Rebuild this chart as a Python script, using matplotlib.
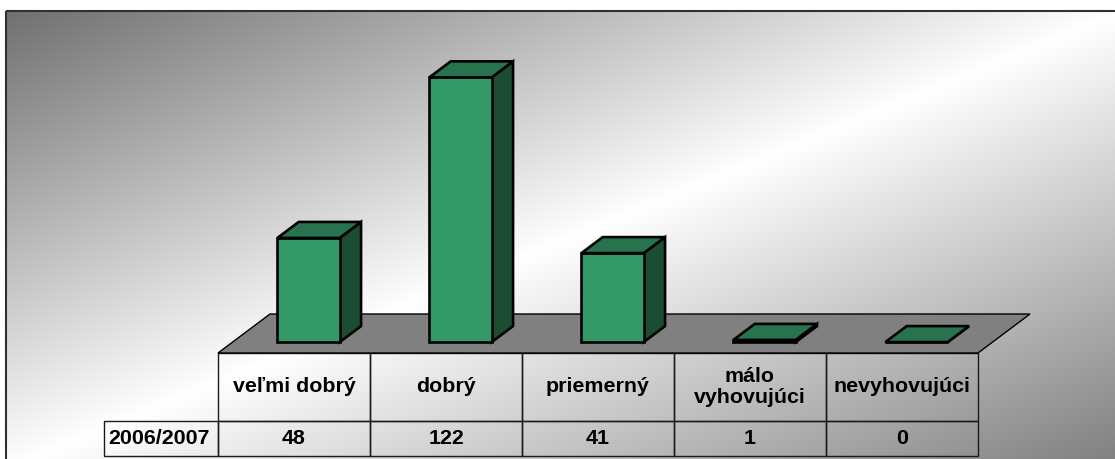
"""3D-style column chart with a data table: grades 2006/2007."""

import matplotlib

matplotlib.use("Agg")
import matplotlib.pyplot as plt
import numpy as np
from matplotlib.patches import Polygon, Rectangle
from matplotlib.table import Table

plt.rcParams["font.family"] = ["Liberation Sans", "DejaVu Sans"]

categories = ["veľmi dobrý", "dobrý", "priemerný", "málo\nvyhovujúci", "nevyhovujúci"]
values = [48, 122, 41, 1, 0]
series_name = "2006/2007"

FRONT = "#339966"
TOP = "#26734d"
SIDE = "#1c4d33"
FLOOR = "#808080"

W, H, DPI = 1115, 459, 100
fig = plt.figure(figsize=(W / DPI, H / DPI), dpi=DPI)

# background: diagonal gray -> white -> gray gradient inside a framed area
bg = fig.add_axes([0, 0, 1, 1])
bg.set_axis_off()
bg.set_xlim(0, W)
bg.set_ylim(H, 0)
fx0, fy0, fx1, fy1 = 6, 11, 1125, 470
yy, xx = np.mgrid[0:1:400j, 0:1:900j]
t = (xx + yy) / 2
g = np.interp(t, [0, 0.5, 1], [112, 255, 125]) / 255
bg.imshow(np.dstack([g, g, g]), extent=[fx0, fx1, fy1, fy0], aspect="auto",
          interpolation="bilinear", zorder=0)
bg.add_patch(Rectangle((fx0, fy0), fx1 - fx0, fy1 - fy0, fill=False,
                       edgecolor="#303030", lw=1.5, zorder=1))

# main axes: x in category units, y in value units
col_px = 152
first_center_px = 294
floor_front_px = H - 353
px_per_unit = 2.17

ax = fig.add_axes([0, 0, 1, 1])
ax.set_axis_off()
ax.patch.set_alpha(0)
xmin = -first_center_px / col_px
ymin = -floor_front_px / px_per_unit
ax.set_xlim(xmin, xmin + W / col_px)
ax.set_ylim(ymin, ymin + H / px_per_unit)

n = len(categories)
ddx = 52 / col_px          # floor depth, category units
ddy = 39 / px_per_unit     # floor depth, value units
floor = Polygon([(-0.5, 0), (n - 0.5, 0), (n - 0.5 + ddx, ddy), (-0.5 + ddx, ddy)],
                closed=True, facecolor=FLOOR, edgecolor="black", lw=1.0, zorder=2)
ax.add_patch(floor)

bw = 0.41
d0, d1 = 0.28, 0.69
ox, oy = (d1 - d0) * ddx, (d1 - d0) * ddy
edge = dict(edgecolor="black", lw=1.9, joinstyle="miter", zorder=3)
for i, v in enumerate(values):
    x0 = i - bw / 2 + d0 * ddx
    x1 = x0 + bw
    y0 = d0 * ddy
    y1 = y0 + v
    ax.add_patch(Polygon([(x1, y0), (x1 + ox, y0 + oy), (x1 + ox, y1 + oy), (x1, y1)],
                         facecolor=SIDE, **edge))
    ax.add_patch(Polygon([(x0, y0), (x1, y0), (x1, y1), (x0, y1)],
                         facecolor=FRONT, **edge))
    ax.add_patch(Polygon([(x0, y1), (x1, y1), (x1 + ox, y1 + oy), (x0 + ox, y1 + oy)],
                         facecolor=TOP, **edge))

# data table under the floor (sizes as axes fractions so bbox scale stays 1)
tx0, ty0, ty1 = 218, 353, 456
label_w, head_h, row_h = 114, 68, 35
tbl = Table(ax, bbox=[tx0 / W, (H - ty1) / H, n * col_px / W, (ty1 - ty0) / H])
tbl.auto_set_font_size(False)
for j, cat in enumerate(categories):
    tbl.add_cell(0, j, width=col_px / W, height=head_h / H, text=cat, loc="center",
                 facecolor="none", edgecolor="#1a1a1a")
    tbl.add_cell(1, j, width=col_px / W, height=row_h / H, text=str(values[j]),
                 loc="center", facecolor="none", edgecolor="#1a1a1a")
lab = tbl.add_cell(1, -1, width=label_w / W, height=row_h / H, text=series_name,
                   loc="left", facecolor="none", edgecolor="#1a1a1a")
lab.PAD = 0.04
for cell in tbl.get_celld().values():
    cell.set_linewidth(1.0)
    cell.get_text().set_fontsize(15.4)
    cell.get_text().set_fontweight("bold")
    cell.get_text().set_linespacing(1.1)
ax.add_table(tbl)

fig.savefig("out.png", dpi=DPI)
